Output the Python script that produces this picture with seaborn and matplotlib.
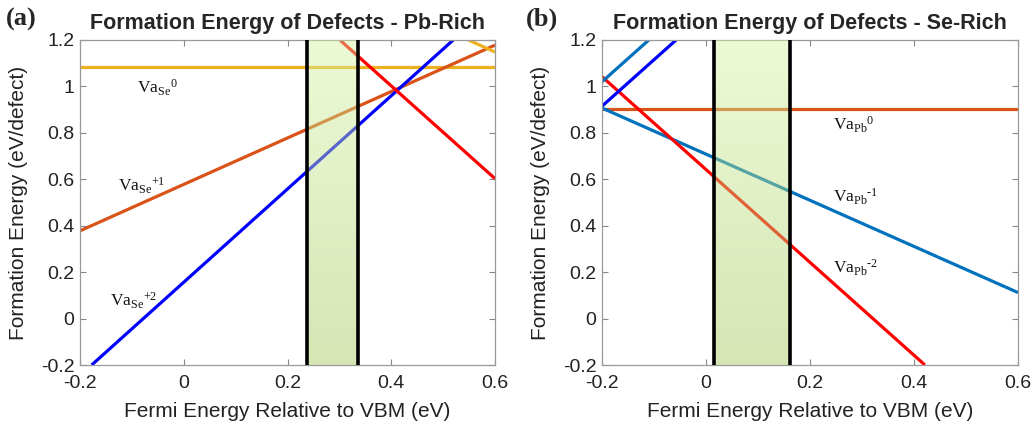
import numpy as np
import pandas as pd
import matplotlib
matplotlib.use("Agg")
import matplotlib.pyplot as plt
import seaborn as sns

# ---------------- data ----------------
x_range = [-0.2, 0.6]

# Panel (a) Pb-rich : line endpoints (Fermi energy, formation energy)
pb_va_se0_x = [-0.2, 0.6]
pb_va_se0_y = [1.085, 1.085]
pb_va_se1_x = [-0.2, 0.6]
pb_va_se1_y = [0.378, 1.178]
pb_va_se2_x = [-0.1775, 0.5195]
pb_va_se2_y = [-0.2, 1.2]
pb_red_x = [0.301, 0.6]
pb_red_y = [1.2, 0.603]
pb_yel_x = [0.549, 0.6]
pb_yel_y = [1.2, 1.148]
pb_window = [0.238, 0.336]

# Panel (b) Se-rich
se_va_pb0_x = [-0.2, 0.6]
se_va_pb0_y = [0.901, 0.901]
se_va_pb1_x = [-0.2, 0.6]
se_va_pb1_y = [0.907, 0.112]
se_va_pb2_x = [-0.2, 0.421]
se_va_pb2_y = [1.042, -0.2]
se_blue_x = [-0.2, -0.0575]
se_blue_y = [0.915, 1.2]
se_steel_x = [-0.2, -0.11]
se_steel_y = [1.02, 1.2]
se_window = [0.0155, 0.1615]

y_ticks = [-0.2, 0, 0.2, 0.4, 0.6, 0.8, 1, 1.2]
y_ticklabels = ["-0.2", "0", "0.2", "0.4", "0.6", "0.8", "1", "1.2"]
x_ticks = [-0.2, 0, 0.2, 0.4, 0.6]
x_ticklabels = ["-0.2", "0", "0.2", "0.4", "0.6"]

titles = ["Formation Energy of Defects - Pb-Rich", "Formation Energy of Defects - Se-Rich"]
panel_tags = ["(a)", "(b)"]

# ---------------- style ----------------
sns.set_style("ticks")
plt.rcParams["font.family"] = ["Liberation Sans", "DejaVu Sans"]
plt.rcParams["mathtext.fontset"] = "custom"
plt.rcParams["mathtext.rm"] = "Liberation Serif"
plt.rcParams["mathtext.it"] = "Liberation Serif:italic"

YELLOW = "#EDB120"
ORANGE = "#D95319"
BLUE = "#0000FF"
RED = "#FF0000"
STEEL = "#0072BD"

panel_a = [
    (pb_va_se0_x, pb_va_se0_y, YELLOW),
    (pb_va_se1_x, pb_va_se1_y, ORANGE),
    (pb_va_se2_x, pb_va_se2_y, BLUE),
    (pb_red_x, pb_red_y, RED),
    (pb_yel_x, pb_yel_y, YELLOW),
]
panel_b = [
    (se_va_pb0_x, se_va_pb0_y, ORANGE),
    (se_va_pb1_x, se_va_pb1_y, STEEL),
    (se_va_pb2_x, se_va_pb2_y, RED),
    (se_blue_x, se_blue_y, BLUE),
    (se_steel_x, se_steel_y, STEEL),
]

labels_a = [
    (r"$\mathrm{Va}_{\mathrm{Se}}{}^{\mathrm{0}}$", -0.09, 0.993),
    (r"$\mathrm{Va}_{\mathrm{Se}}{}^{\text{+1}}$", -0.127, 0.571),
    (r"$\mathrm{Va}_{\mathrm{Se}}{}^{\text{+2}}$", -0.142, 0.075),
]
labels_b = [
    (r"$\mathrm{Va}_{\mathrm{Pb}}{}^{\mathrm{0}}$", 0.244, 0.834),
    (r"$\mathrm{Va}_{\mathrm{Pb}}{}^{\text{-1}}$", 0.244, 0.523),
    (r"$\mathrm{Va}_{\mathrm{Pb}}{}^{\text{-2}}$", 0.244, 0.217),
]

fig = plt.figure(figsize=(10.32, 4.23), dpi=100)
ax_a = fig.add_axes([80 / 1032, 1 - 365 / 423, 415 / 1032, 325 / 423])
ax_b = fig.add_axes([602 / 1032, 1 - 365 / 423, 416 / 1032, 325 / 423])

# gradient for the shaded window (semi-transparent, drawn over the lines)
top_c = np.array([213, 244, 164]) / 255.0
bot_c = np.array([164, 199, 88]) / 255.0
t = np.linspace(0, 1, 200)[:, None]
grad = np.zeros((200, 1, 4))
grad[:, 0, :3] = top_c * (1 - t) + bot_c * t
grad[:, 0, 3] = 0.45

for ax, lines, labels, window, title in [
    (ax_a, panel_a, labels_a, pb_window, titles[0]),
    (ax_b, panel_b, labels_b, se_window, titles[1]),
]:
    for xs, ys, col in lines:
        df = pd.DataFrame({"x": xs, "y": ys})
        sns.lineplot(data=df, x="x", y="y", ax=ax, color=col, lw=2.3,
                     solid_capstyle="butt", zorder=2)
    ax.imshow(grad, extent=[window[0], window[1], -0.2, 1.2], aspect="auto",
              origin="upper", zorder=3, interpolation="bilinear")
    for wx in window:
        ax.axvline(wx, color="black", lw=2.6, zorder=4)
    for txt, tx, ty in labels:
        ax.text(tx, ty, txt, fontsize=12.5, va="center", ha="left", color="#111111", zorder=5)

    ax.set_xlim(*x_range)
    ax.set_ylim(-0.2, 1.2)
    ax.set_xticks(x_ticks)
    ax.set_xticklabels(x_ticklabels)
    ax.set_yticks(y_ticks)
    ax.set_yticklabels(y_ticklabels)
    ax.tick_params(direction="in", length=4, width=0.8, color="#888888",
                   top=True, right=True, labelsize=14, labelcolor="#222222", pad=4)
    ax.tick_params(axis="x", pad=7)
    for sp in ax.spines.values():
        sp.set_visible(True)
        sp.set_color("#999999")
        sp.set_linewidth(0.9)
    ax.set_xlabel("Fermi Energy Relative to VBM (eV)", fontsize=15, color="#222222", va="center")
    ax.set_ylabel("Formation Energy (eV/defect)", fontsize=15, color="#222222", va="center")
    ax.xaxis.set_label_coords(0.5, -0.142)
    ax.yaxis.set_label_coords(-0.149, 0.5)
    ax.set_title(title, fontsize=15.5, fontweight="bold", pad=8)

fig.text(6 / 1032, 1 - 19 / 423, panel_tags[0], fontsize=19, fontweight="bold",
         family="Liberation Serif", va="center", ha="left")
fig.text(526 / 1032, 1 - 19 / 423, panel_tags[1], fontsize=19, fontweight="bold",
         family="Liberation Serif", va="center", ha="left")

fig.savefig("out.png", dpi=100)
